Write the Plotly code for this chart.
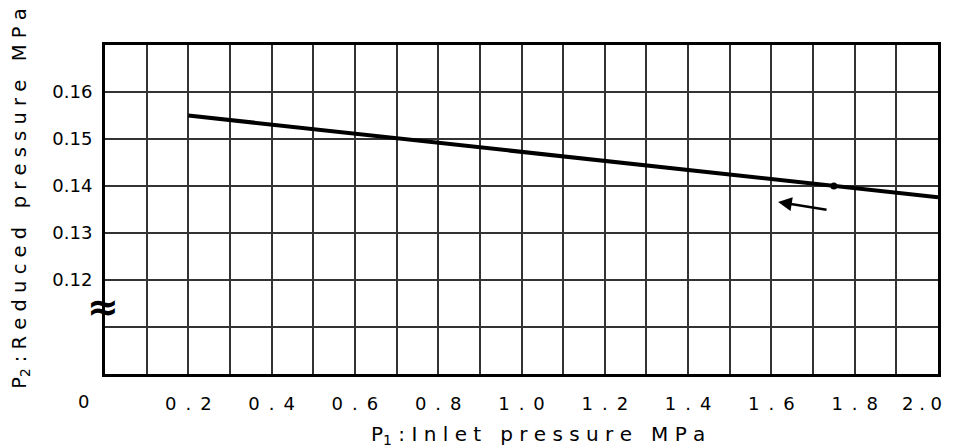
import plotly.graph_objects as go

# Data
inlet_pressure = [0.2, 2.0]          # P1, MPa
reduced_pressure = [0.155, 0.1376]   # P2, MPa
set_point_x = [1.75]
set_point_y = [0.140]
arrow_tail = (1.736, 0.1349)
arrow_head = (1.616, 0.1366)

SP = "\u2002.\u2002"
x_ticks = [round(0.1 * i, 1) for i in range(0, 21)]
x_labels = ["" if (i % 2 == 1 or i == 0 or i == 20) else f"{0.1*i:.1f}".replace(".", SP) for i in range(0, 21)]
y_ticks = [0.11, 0.12, 0.13, 0.14, 0.15, 0.16, 0.17]
y_labels = ["", "0.12", "0.13", "0.14", "0.15", "0.16", ""]

FONT = "DejaVu Sans"
NB = "\u00a0"

def spaced(s):
    return NB.join(list(s))

x_title = "P<sub>1</sub>" + NB + ":" + NB + spaced("Inlet") + NB * 3 + spaced("pressure") + NB * 3 + spaced("MPa")
y_title = "P<sub>2</sub>" + NB + ":" + NB + spaced("Reduced") + NB * 3 + spaced("pressure") + NB * 3 + spaced("MPa")

fig = go.Figure()
fig.add_trace(go.Scatter(x=inlet_pressure, y=reduced_pressure, mode="lines",
                         line=dict(color="black", width=4), showlegend=False))
fig.add_trace(go.Scatter(x=set_point_x, y=set_point_y, mode="markers",
                         marker=dict(color="black", size=7), showlegend=False))

fig.add_annotation(x=arrow_head[0], y=arrow_head[1], ax=arrow_tail[0], ay=arrow_tail[1],
                   xref="x", yref="y", axref="x", ayref="y", text="",
                   showarrow=True, arrowhead=2, arrowsize=1.1, arrowwidth=2.5, arrowcolor="black")

# "0" label of x axis (offset due to axis break)
fig.add_annotation(x=0, y=0.10, xref="x", yref="y", text="0", showarrow=False,
                   xshift=-22, yshift=-27, font=dict(family=FONT, size=18, color="black"))
# "2.0" label, kept inside the page
fig.add_annotation(x=x_ticks[-1], y=0.10, xref="x", yref="y", text="2.0".replace(".", "\u00a0.\u00a0"),
                   showarrow=False, xanchor="right", xshift=6, yshift=-29,
                   font=dict(family=FONT, size=18, color="black"))
# axis break symbol
fig.add_annotation(x=0, y=0.1143, xref="x", yref="y", text="<b>≈</b>", showarrow=False,
                   xshift=-2, font=dict(family=FONT, size=38, color="black"))

# axis titles
fig.add_annotation(x=0.5204, y=0, xref="paper", yref="paper", yshift=-61,
                   xanchor="center", yanchor="middle", text=x_title, showarrow=False,
                   font=dict(family=FONT, size=20, color="black"))
fig.add_annotation(x=-0.101, y=0.535, xref="paper", yref="paper", textangle=-90,
                   xanchor="center", yanchor="middle", text=y_title, showarrow=False,
                   font=dict(family=FONT, size=19.5, color="black"))

fig.update_xaxes(range=[0, 2.0], tickvals=x_ticks, ticktext=x_labels,
                 showgrid=True, gridcolor="#333333", gridwidth=1.5,
                 showline=True, linecolor="black", linewidth=3, mirror=True,
                 ticks="", ticklabelstandoff=11, zeroline=False, automargin=False,
                 tickfont=dict(family=FONT, size=18, color="black"))
fig.update_yaxes(range=[0.10, 0.17], tickvals=y_ticks, ticktext=y_labels,
                 showgrid=True, gridcolor="#333333", gridwidth=1.5,
                 showline=True, linecolor="black", linewidth=3, mirror=True,
                 ticks="", ticklabelstandoff=6, zeroline=False, automargin=False,
                 tickfont=dict(family=FONT, size=18, color="black"))

fig.update_layout(width=961, height=447, margin=dict(l=97, r=31, t=37, b=81),
                  plot_bgcolor="white", paper_bgcolor="white")

fig.write_html("out.html")
